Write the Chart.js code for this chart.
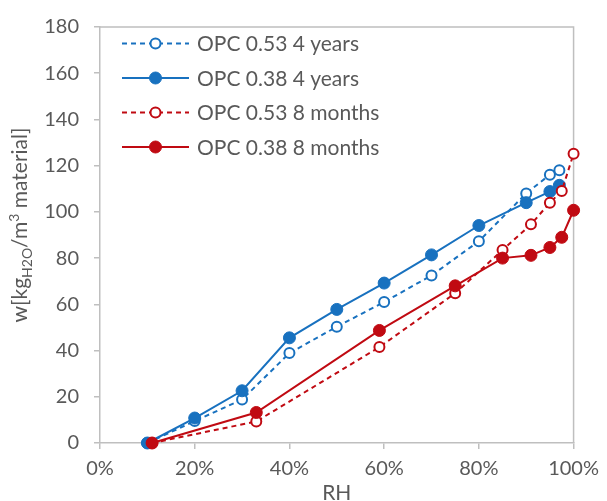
<!DOCTYPE html>
<html>
<head>
<meta charset="utf-8">
<script src="https://cdn.jsdelivr.net/npm/chart.js@4/dist/chart.umd.min.js"></script>
<style>
  html, body { margin: 0; padding: 0; background: #ffffff; }
  canvas { display: block; }
</style>
</head>
<body>
<canvas id="chart" width="607" height="501"></canvas>
<script>
// Relative humidity steps (fraction of 1) for each sample age
const rh4Years = [0.10, 0.20, 0.30, 0.40, 0.50, 0.60, 0.70, 0.80, 0.90, 0.95, 0.97];
const rh8Months = [0.11, 0.33, 0.59, 0.75, 0.85, 0.91, 0.95, 0.975, 1.00];

// Moisture content w [kg H2O / m3 material]
const opc053Years = [0, 9.5, 18.8, 38.9, 50.3, 61.0, 72.5, 87.3, 108.0, 116.1, 118.0];
const opc038Years = [0, 10.8, 22.6, 45.5, 57.8, 69.2, 81.4, 94.1, 104.0, 108.8, 111.5];
const opc053Months = [0, 9.3, 41.5, 64.8, 83.5, 94.6, 104.0, 109.0, 125.2];
const opc038Months = [0, 13.2, 48.7, 68.0, 80.0, 81.2, 84.6, 89.0, 100.7];

const seriesLabels = ['OPC 0.53 4 years', 'OPC 0.38 4 years', 'OPC 0.53 8 months', 'OPC 0.38 8 months'];
const xTicks = [0, 0.2, 0.4, 0.6, 0.8, 1.0];
const yTicks = [0, 20, 40, 60, 80, 100, 120, 140, 160, 180];

const BLUE = '#1871bf';
const RED = '#c00a12';
const AXIS = '#bfbfbf';
const TEXT = '#595959';
const FONT = 'Lato';

const pairs = (xs, ys) => xs.map((x, i) => ({ x: x, y: ys[i] }));

function series(label, xs, ys, color, open, order) {
  return {
    label: label,
    data: pairs(xs, ys),
    showLine: true,
    borderColor: color,
    backgroundColor: color,
    borderWidth: 2,
    borderDash: open ? [5, 4] : [],
    pointRadius: open ? 5 : 6,
    pointHoverRadius: open ? 5 : 6,
    pointBorderWidth: open ? 2 : 1,
    pointBackgroundColor: open ? '#ffffff' : color,
    pointBorderColor: color,
    tension: 0,
    clip: false,
    order: order
  };
}

// Outline of the plot area (top and right edges)
const frame = {
  id: 'frame',
  beforeDatasetsDraw(chart) {
    const a = chart.chartArea, ctx = chart.ctx;
    ctx.save();
    ctx.strokeStyle = AXIS;
    ctx.lineWidth = 1.5;
    ctx.beginPath();
    ctx.moveTo(a.left, a.top);
    ctx.lineTo(a.right, a.top);
    ctx.lineTo(a.right, a.bottom);
    ctx.stroke();
    ctx.restore();
  }
};

// Legend in the upper-left corner: line sample, marker and label
const insetLegend = {
  id: 'insetLegend',
  afterDraw(chart) {
    const ctx = chart.ctx;
    const x0 = 122, x1 = 189, xm = 155.5, xt = 197, y0 = 43.5, dy = 34.5;
    ctx.save();
    chart.data.datasets.forEach((ds, row) => {
      const y = y0 + row * dy;
      ctx.strokeStyle = ds.borderColor;
      ctx.lineWidth = 2;
      ctx.setLineDash(ds.borderDash);
      ctx.beginPath();
      ctx.moveTo(x0, y);
      ctx.lineTo(x1, y);
      ctx.stroke();
      ctx.setLineDash([]);
      ctx.beginPath();
      ctx.arc(xm, y, ds.pointRadius, 0, Math.PI * 2);
      ctx.fillStyle = ds.pointBackgroundColor;
      ctx.fill();
      ctx.lineWidth = ds.pointBorderWidth;
      ctx.strokeStyle = ds.pointBorderColor;
      ctx.stroke();
      ctx.fillStyle = TEXT;
      ctx.font = '21px ' + FONT;
      ctx.textAlign = 'left';
      ctx.textBaseline = 'middle';
      ctx.fillText(ds.label, xt, y + 1);
    });
    ctx.restore();
  }
};

// Axis titles, the vertical one with subscript and superscript parts
const axisTitles = {
  id: 'axisTitles',
  afterDraw(chart) {
    const ctx = chart.ctx, a = chart.chartArea;
    ctx.save();
    ctx.fillStyle = TEXT;
    ctx.textBaseline = 'alphabetic';

    // x title
    ctx.font = '21px ' + FONT;
    ctx.textAlign = 'center';
    ctx.fillText('RH', (a.left + a.right) / 2, 500);

    // y title
    const parts = [
      { t: 'w[kg', size: 21, dy: 0 },
      { t: 'H2O', size: 14, dy: 5 },
      { t: '/m', size: 21, dy: 0 },
      { t: '3', size: 14, dy: -8 },
      { t: ' material]', size: 21, dy: 0 }
    ];
    let total = 0;
    parts.forEach(p => { ctx.font = p.size + 'px ' + FONT; p.w = ctx.measureText(p.t).width; total += p.w; });
    ctx.translate(27, 225);
    ctx.rotate(-Math.PI / 2);
    ctx.textAlign = 'left';
    let x = -total / 2;
    parts.forEach(p => {
      ctx.font = p.size + 'px ' + FONT;
      ctx.fillText(p.t, x, p.dy);
      x += p.w;
    });
    ctx.restore();
  }
};

new Chart(document.getElementById('chart'), {
  type: 'scatter',
  data: {
    datasets: [
      series(seriesLabels[0], rh4Years, opc053Years, BLUE, true, 3),
      series(seriesLabels[1], rh4Years, opc038Years, BLUE, false, 2),
      series(seriesLabels[2], rh8Months, opc053Months, RED, true, 1),
      series(seriesLabels[3], rh8Months, opc038Months, RED, false, 0)
    ]
  },
  options: {
    responsive: false,
    animation: false,
    devicePixelRatio: 1,
    layout: { padding: { top: 25, right: 28, left: 0, bottom: 0 } },
    plugins: { legend: { display: false }, tooltip: { enabled: false } },
    scales: {
      x: {
        type: 'linear',
        min: 0, max: 1,
        afterFit(s) { s.height = 58; },
        afterBuildTicks(s) { s.ticks = xTicks.map(v => ({ value: v })); },
        border: { color: AXIS, width: 1.5 },
        grid: { drawOnChartArea: false, drawTicks: true, tickLength: 6, color: AXIS, lineWidth: 1.5 },
        ticks: {
          color: TEXT, padding: 8,
          font: { family: FONT, size: 20 },
          maxRotation: 0,
          callback: v => Math.round(v * 100) + '%'
        }
      },
      y: {
        type: 'linear',
        min: 0, max: 180,
        afterFit(s) { s.width = 100; },
        afterBuildTicks(s) { s.ticks = yTicks.map(v => ({ value: v })); },
        border: { color: AXIS, width: 1.5 },
        grid: { drawOnChartArea: false, drawTicks: true, tickLength: 6, color: AXIS, lineWidth: 1.5 },
        ticks: {
          color: TEXT, padding: 15,
          font: { family: FONT, size: 20 }
        }
      }
    }
  },
  plugins: [frame, insetLegend, axisTitles]
});
</script>
</body>
</html>
